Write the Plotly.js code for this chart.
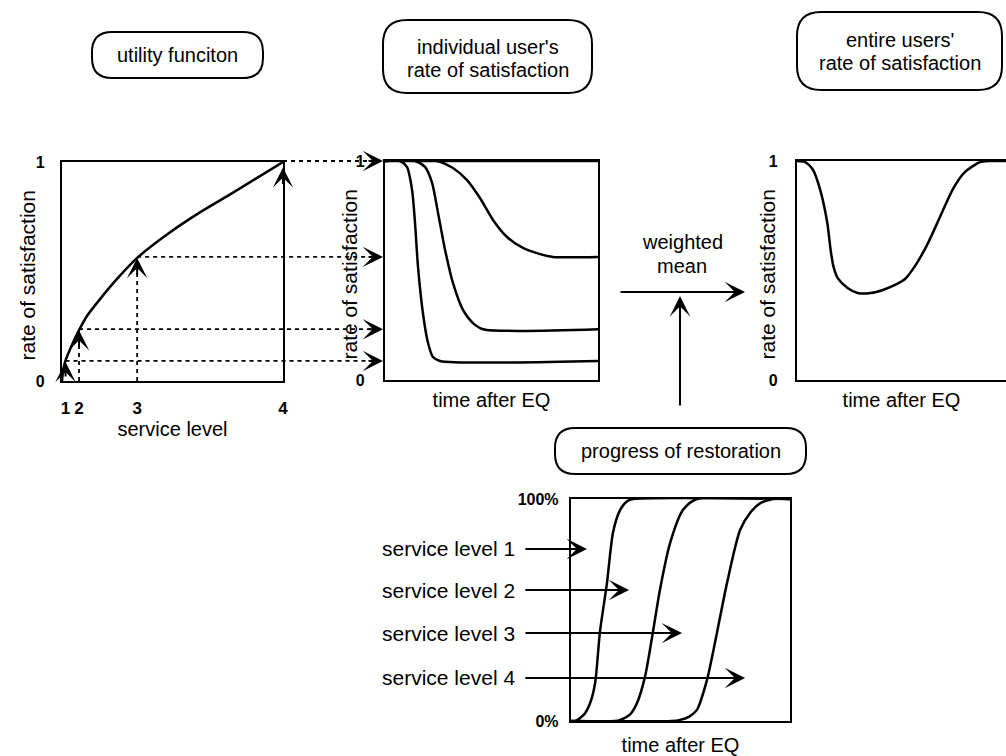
<!DOCTYPE html>
<html><head><meta charset="utf-8">
<script src="https://cdn.plot.ly/plotly-3.0.1.min.js"></script>
<style>html,body{margin:0;padding:0;background:#fff}#chart{width:1006px;height:756px}</style>
</head><body><div id="chart"></div>
<script>
// ---------------- data ----------------
const levelLabels = ['1', '2', '3', '4'];
const levelX = [0.016, 0.077, 0.34, 1.0];          // where each service level sits on the utility axis
const levelSatisfaction = [0.087, 0.232, 0.562, 1.0];

const utilityX = [0, 0.004, 0.014, 0.045, 0.077, 0.113, 0.172, 0.249, 0.34, 0.475, 0.624, 0.774, 1.0];
const utilityY = [0, 0.04, 0.087, 0.164, 0.232, 0.297, 0.374, 0.466, 0.562, 0.669, 0.77, 0.86, 1.0];

const sat4T = [0, 1];
const sat4V = [1, 1];
const sat3T = [0, 0.244, 0.319, 0.385, 0.446, 0.507, 0.573, 0.648, 0.728, 0.789, 1];
const sat3V = [1, 1, 0.968, 0.913, 0.831, 0.731, 0.653, 0.603, 0.575, 0.562, 0.562];
const sat2T = [0, 0.141, 0.188, 0.221, 0.249, 0.282, 0.319, 0.366, 0.413, 0.46, 1];
const sat2V = [1, 1, 0.973, 0.9, 0.763, 0.594, 0.443, 0.32, 0.26, 0.232, 0.232];
const sat1T = [0, 0.07, 0.103, 0.127, 0.141, 0.155, 0.178, 0.202, 0.225, 0.258, 1];
const sat1V = [1, 1, 0.973, 0.868, 0.717, 0.516, 0.306, 0.169, 0.105, 0.087, 0.087];

const entireT = [0, 0.039, 0.077, 0.111, 0.145, 0.16, 0.174, 0.195, 0.242, 0.29, 0.353, 0.411, 0.469, 0.517, 0.565, 0.622, 0.684, 0.746, 0.804, 0.876, 0.923, 1];
const entireV = [1, 0.995, 0.959, 0.868, 0.717, 0.6, 0.52, 0.465, 0.42, 0.397, 0.397, 0.411, 0.434, 0.461, 0.521, 0.616, 0.744, 0.872, 0.95, 0.995, 1, 1];

const rest1T = [0, 0.02, 0.06, 0.087, 0.11, 0.132, 0.164, 0.192, 0.224, 0.256, 0.283, 1];
const rest1V = [0, 0, 3, 8, 17, 40, 62, 85, 95, 99, 100, 100];
const rest2T = [0, 0.2, 0.224, 0.27, 0.301, 0.338, 0.374, 0.406, 0.452, 0.511, 0.575, 1];
const rest2V = [0, 0, 0.5, 3, 8, 20, 40, 59, 80, 95, 100, 100];
const rest3T = [0, 0.46, 0.498, 0.54, 0.575, 0.621, 0.667, 0.712, 0.772, 0.82, 0.863, 0.922, 1];
const rest3V = [0, 0, 0.5, 2, 5, 18.5, 40, 62, 86, 94, 98, 100, 100];

const serviceLevelNames = ['service level 1', 'service level 2', 'service level 3', 'service level 4'];
const yTitle = 'rate of satisfaction';

// ---------------- layout helpers ----------------
const W = 1006, H = 756;
const FONT = 'Liberation Sans, Arial, Helvetica, sans-serif';
const P1 = {x: [62, 283], y: [162, 381]};
const P2 = {x: [385, 598], y: [161, 380]};
const P3 = {x: [797, 1006], y: [161, 380]};
const P4 = {x: [571, 790], y: [499, 721]};
const fx = p => p / W;
const fy = p => 1 - p / H;
const dom = P => ({x: [fx(P.x[0]), fx(P.x[1])], y: [fy(P.y[1]), fy(P.y[0])]});
const mapX = (P, v) => P.x[0] + v * (P.x[1] - P.x[0]);
const mapY = (P, v) => P.y[1] - v * (P.y[1] - P.y[0]);

const line = {color: 'black', width: 2.5, shape: 'spline', smoothing: 0.7};
const traces = [
  {x: utilityX, y: utilityY, xaxis: 'x', yaxis: 'y', mode: 'lines', line},
  {x: sat4T, y: sat4V, xaxis: 'x2', yaxis: 'y2', mode: 'lines', line},
  {x: sat3T, y: sat3V, xaxis: 'x2', yaxis: 'y2', mode: 'lines', line},
  {x: sat2T, y: sat2V, xaxis: 'x2', yaxis: 'y2', mode: 'lines', line},
  {x: sat1T, y: sat1V, xaxis: 'x2', yaxis: 'y2', mode: 'lines', line},
  {x: entireT, y: entireV, xaxis: 'x3', yaxis: 'y3', mode: 'lines', line},
  {x: rest1T, y: rest1V, xaxis: 'x4', yaxis: 'y4', mode: 'lines', line},
  {x: rest2T, y: rest2V, xaxis: 'x4', yaxis: 'y4', mode: 'lines', line},
  {x: rest3T, y: rest3V, xaxis: 'x4', yaxis: 'y4', mode: 'lines', line}
];
traces.forEach(t => { t.hoverinfo = 'skip'; t.cliponaxis = false; });

const tickBold = {family: FONT, size: 16, color: 'black', weight: 'bold'};
const baseAx = {
  showline: true, linecolor: 'black', linewidth: 2.2, mirror: true,
  showgrid: false, zeroline: false, ticks: '', fixedrange: true, tickfont: tickBold
};
const titleFont = {family: FONT, size: 20, color: 'black'};
const d1 = dom(P1), d2 = dom(P2), d3 = dom(P3), d4 = dom(P4);

const layout = {
  width: W, height: H, margin: {l: 0, r: 0, t: 0, b: 0},
  paper_bgcolor: 'white', plot_bgcolor: 'rgba(0,0,0,0)', showlegend: false,
  font: {family: FONT, color: 'black'},
  xaxis: Object.assign({}, baseAx, {domain: d1.x, anchor: 'y', range: [0, 1],
    tickvals: levelX, ticktext: levelLabels, ticklabelstandoff: 10,
    tickfont: {family: FONT, size: 17, color: 'black', weight: 'bold'},
    title: {text: 'service level', font: titleFont, standoff: 0}}),
  yaxis: Object.assign({}, baseAx, {domain: d1.y, anchor: 'x', range: [0, 1],
    tickvals: [0, 1], ticktext: ['0', '1'], ticklabelstandoff: 12}),
  xaxis2: Object.assign({}, baseAx, {domain: d2.x, anchor: 'y2', range: [0, 1], showticklabels: false,
    title: {text: 'time after EQ', font: titleFont, standoff: 12}}),
  yaxis2: Object.assign({}, baseAx, {domain: d2.y, anchor: 'x2', range: [0, 1],
    tickvals: [0, 1], ticktext: ['0', '1'], ticklabelstandoff: 15}),
  xaxis3: Object.assign({}, baseAx, {domain: d3.x, anchor: 'y3', range: [0, 1], showticklabels: false,
    title: {text: 'time after EQ', font: titleFont, standoff: 12}}),
  yaxis3: Object.assign({}, baseAx, {domain: d3.y, anchor: 'x3', range: [0, 1], mirror: false,
    tickvals: [0, 1], ticktext: ['0', '1'], ticklabelstandoff: 14}),
  xaxis4: Object.assign({}, baseAx, {domain: d4.x, anchor: 'y4', range: [0, 1], showticklabels: false,
    title: {text: 'time after EQ', font: titleFont, standoff: 16}}),
  yaxis4: Object.assign({}, baseAx, {domain: d4.y, anchor: 'x4', range: [0, 100],
    tickvals: [0, 100], ticktext: ['0%', '100%'], ticklabelstandoff: 7}),
  shapes: [],
  annotations: []
};

// vertical axis titles (placed tight against the frames, as in the original drawing)
[[P1, 27], [P2, 349], [P3, 767]].forEach(([P, cx]) => {
  layout.annotations.push({xref: 'paper', yref: 'paper', x: fx(cx), y: fy((P.y[0] + P.y[1]) / 2 + 4),
    text: yTitle, textangle: -90, showarrow: false, xanchor: 'center', yanchor: 'middle',
    font: {family: FONT, size: 21, color: 'black'}});
});

// rounded label boxes
function roundRect(x0, y0, x1, y1, r) {
  const P = (x, y) => fx(x) + ',' + fy(y);
  return 'M' + P(x0 + r, y0) + ' L' + P(x1 - r, y0) + ' Q' + P(x1, y0) + ' ' + P(x1, y0 + r) +
    ' L' + P(x1, y1 - r) + ' Q' + P(x1, y1) + ' ' + P(x1 - r, y1) +
    ' L' + P(x0 + r, y1) + ' Q' + P(x0, y1) + ' ' + P(x0, y1 - r) +
    ' L' + P(x0, y0 + r) + ' Q' + P(x0, y0) + ' ' + P(x0 + r, y0) + ' Z';
}
const boxes = [
  {b: [92, 32, 263, 78], r: 20, lines: ['utility funciton'], ys: [55]},
  {b: [383, 20, 592, 93], r: 24, lines: ["individual user's", 'rate of satisfaction'], ys: [47, 70]},
  {b: [797, 12, 1002, 90], r: 24, lines: ["entire users'", 'rate of satisfaction'], ys: [40, 63]},
  {b: [555, 428, 806, 474], r: 20, lines: ['progress of restoration'], ys: [451]}
];
boxes.forEach(o => {
  layout.shapes.push({type: 'path', xref: 'paper', yref: 'paper',
    path: roundRect(o.b[0], o.b[1], o.b[2], o.b[3], o.r), line: {color: 'black', width: 2}});
  o.lines.forEach((t, i) => layout.annotations.push({xref: 'paper', yref: 'paper',
    x: fx((o.b[0] + o.b[2]) / 2), y: fy(o.ys[i]), text: t, showarrow: false,
    xanchor: 'center', yanchor: 'middle', font: {family: FONT, size: 20, color: 'black'}}));
});

const dashed = {color: 'black', width: 1.8, dash: '4px,4px'};
const arrowStyle = {showarrow: true, arrowhead: 3, arrowsize: 1.7, arrowwidth: 2, arrowcolor: 'black', text: ''};

// utility -> individual satisfaction connectors
levelX.forEach((lx, i) => {
  const xp = mapX(P1, lx);
  const y2 = mapY(P2, levelSatisfaction[i]);
  if (i > 0 && i < 3) {
    layout.shapes.push({type: 'line', xref: 'x', yref: 'y', x0: lx, x1: lx, y0: 0, y1: levelSatisfaction[i] - 0.05, line: dashed});
  }
  layout.annotations.push(Object.assign({}, arrowStyle, {xref: 'x', yref: 'y', x: lx,
    y: i === 3 ? 0.975 : levelSatisfaction[i], ax: 0, ay: i === 0 ? 16 : 18}));
  layout.shapes.push({type: 'line', xref: 'paper', yref: 'paper', x0: fx(xp), x1: fx(P2.x[0] - 12),
    y0: fy(y2), y1: fy(y2), line: dashed});
  layout.annotations.push(Object.assign({}, arrowStyle, {xref: 'paper', yref: 'paper',
    x: fx(P2.x[0] - 2), y: fy(y2), ax: -16, ay: 0}));
});

// weighted mean arrows and label
layout.annotations.push(Object.assign({}, arrowStyle, {xref: 'paper', yref: 'paper', x: fx(745), y: fy(292), ax: -126, ay: 0}));
layout.annotations.push(Object.assign({}, arrowStyle, {xref: 'paper', yref: 'paper', x: fx(680), y: fy(296), ax: 0, ay: 111}));
[['weighted', 242], ['mean', 266]].forEach(([t, y]) => layout.annotations.push({xref: 'paper', yref: 'paper',
  x: fx(682), y: fy(y), text: t, showarrow: false, xanchor: 'center', yanchor: 'middle',
  font: {family: FONT, size: 20, color: 'black'}}));

// service level arrows into restoration panel
const arrowLevelY = [77.5, 59, 39.6, 19.4];
const arrowTipX = [0.073, 0.265, 0.507, 0.795];
serviceLevelNames.forEach((name, i) => {
  layout.annotations.push(Object.assign({}, arrowStyle, {xref: 'x4', yref: 'y4', x: arrowTipX[i], y: arrowLevelY[i],
    axref: 'x4', ayref: 'y4', ax: -0.215, ay: arrowLevelY[i]}));
  layout.annotations.push({xref: 'paper', yref: 'paper', x: fx(mapX(P4, -0.245)), y: fy(mapY(P4, arrowLevelY[i] / 100)),
    text: name, showarrow: false, xanchor: 'right', yanchor: 'middle', font: {family: FONT, size: 21, color: 'black'}});
});

Plotly.newPlot('chart', traces, layout, {staticPlot: true, displayModeBar: false});
</script>
</body></html>
